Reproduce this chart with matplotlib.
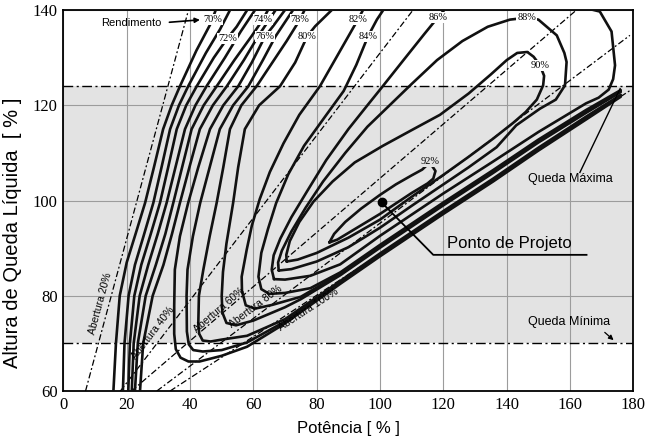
import numpy as np
import matplotlib.pyplot as plt

# hill chart: points are (Potência %, Altura %)
eff70 = [(15.8, 60), (16.6, 70), (17.8, 80), (20.0, 87), (22.8, 93), (25.8, 99.5), (28.6, 107),
         (31.5, 115), (34.2, 120), (36.8, 124), (42.0, 131.5), (46.3, 136.9), (48.4, 140.5)]
eff71 = [(18.8, 60), (19.3, 70), (20.6, 80), (22.6, 86.5), (25.3, 92.5), (28.4, 99.5), (31.0, 107),
         (33.7, 115), (36.5, 120), (39.4, 124), (45.0, 131), (49.5, 136), (53.0, 140.5)]
eff72 = [(20.5, 60), (21.0, 70), (22.4, 80), (24.6, 86.5), (27.6, 93), (30.5, 99.5), (33.1, 107),
         (35.8, 115), (38.8, 120), (42.1, 124), (47.5, 130), (51.8, 134.1), (54.7, 136.5), (58.5, 140.5)]
eff73 = [(21.6, 60), (22.2, 70), (24.1, 80), (26.8, 86.5), (29.8, 93), (32.6, 99.5), (35.4, 107),
         (38.4, 115), (41.7, 120), (45.2, 124), (51.0, 130), (56.0, 135.5), (61.0, 140.5)]
eff74 = [(22.6, 60), (23.5, 70), (26.0, 80), (29.2, 86.5), (32.2, 93), (34.7, 99.5), (37.5, 107),
         (40.5, 115), (44.3, 120), (48.4, 124), (54.0, 129.5), (59.4, 134.5), (63.0, 138), (65.0, 140.5)]
eff75 = [(24.2, 60), (25.2, 70), (28.2, 80), (31.6, 86.5), (34.3, 93), (36.8, 99.5), (39.8, 107),
         (43.1, 115), (47.2, 120), (51.6, 124), (57.0, 129.5), (61.5, 134.5), (65.0, 138), (67.5, 140.5)]
eff76 = [(176, 121.8), (165, 117.0), (150, 110.5), (135.7, 104.0), (120, 97.2), (100, 88.3), (87.4, 82.5),
         (70, 74.2), (58, 69.3), (50, 67.4), (43, 66.2), (39.5, 66.2), (37.0, 67.0), (35.5, 68.8),
         (35.0, 72), (35.0, 78), (35.2, 85.5), (36.8, 92.5), (39.4, 99.5), (42.6, 107), (46.3, 115),
         (50.5, 120), (55.2, 124), (59.5, 129), (63.7, 134.5), (66.2, 136.6), (70.5, 140.5)]
eff77 = [(176, 122.0), (165, 117.3), (150, 110.8), (135.7, 104.3), (120, 97.5), (100, 88.6), (87.4, 82.8),
         (70, 74.6), (58, 70.2), (50, 68.6), (44, 68.3), (41.0, 68.6), (39.6, 69.8), (39.0, 72.5),
         (38.9, 80), (39.2, 85.5), (40.9, 92.5), (43.2, 99.5), (46.2, 107), (49.4, 115), (53.6, 120),
         (58.4, 124), (63.0, 129.5), (67.0, 134.5), (70.5, 138), (73.0, 140.5)]
eff78 = [(176, 122.2), (165, 117.6), (150, 111.1), (135.7, 104.6), (120, 97.8), (100, 88.9), (87.4, 83.1),
         (70, 75.1), (58, 71.6), (50, 70.8), (46.5, 70.4), (44.0, 70.6), (42.9, 72), (42.6, 74),
         (42.8, 80), (44.2, 85.5), (46.2, 92.5), (48.4, 99.5), (50.5, 107), (52.6, 115), (56.2, 120),
         (61.0, 124), (66.0, 129), (70.5, 133.5), (74.7, 138), (76.5, 140.5)]
eff80 = [(176, 122.8), (165, 118.4), (150, 112.2), (135.7, 105.8), (120, 99.0), (100, 90.1), (87.4, 84.3),
         (75, 79.3), (70, 77.6), (60, 74.8), (54.5, 73.8), (51.5, 74.3), (50.2, 76.5), (50.0, 80),
         (50.4, 85), (51.5, 91), (53.6, 99.5), (55.2, 107), (57.3, 115), (61.8, 120), (68.4, 124),
         (73.2, 129), (77.0, 134.5), (79.5, 136.6), (85.5, 140.5)]
eff82 = [(176, 123.0), (165, 118.7), (150, 112.5), (135.7, 106.1), (120, 99.3), (100, 90.4), (87.4, 84.6),
         (75, 79.8), (66, 78.1), (60.5, 77.3), (57.6, 78), (56.4, 81), (56.3, 84), (57.9, 89.7),
         (59.5, 94.7), (62.0, 100.3), (65.2, 106), (69.5, 112), (74.5, 118), (81.0, 124), (87.0, 131),
         (93.0, 138), (95.0, 140.5)]
eff84 = [(176, 123.2), (165, 119.0), (150, 112.8), (135.7, 106.4), (120, 99.6), (100, 90.7), (87.4, 84.9),
         (78, 81.6), (70, 80.6), (65, 80.4), (62.5, 81.4), (61.6, 84), (62.5, 89), (64.6, 94),
         (67.2, 99.5), (71.0, 105.5), (76.0, 111.5), (82.5, 117.5), (88.5, 123), (92.5, 128.5),
         (96.2, 134.5), (99.0, 138), (101.5, 140.5)]
eff86 = [(66.5, 83.5), (65.8, 85.5), (66.4, 88.5), (68.5, 92), (72, 96.5), (77, 102), (83, 108.5),
         (90, 115), (96, 120), (100, 123.3), (108, 130), (114, 135), (118.3, 138.5), (121, 140.6),
         (135, 145), (150, 145), (160, 140.6), (166.3, 140.2), (169.4, 139.7), (173.1, 135.5),
         (174.2, 128.4), (173.6, 125.5), (172.2, 123.3), (169, 121.6), (165, 120.4), (150, 114.4),
         (135.7, 108.2), (120, 101.5), (100, 92.6), (87.4, 86.6), (78, 84.2), (70, 83.4), (66.5, 83.5)]
eff88 = [(68, 85.3), (67.8, 87), (69, 89.5), (72, 93.5), (76.5, 98.5), (82, 104), (89, 110), (96, 115.5),
         (103, 120), (110, 124.5), (118, 129.5), (126, 133.5), (134, 136.5), (141, 138), (146.3, 138.4),
         (150, 138), (155.8, 134.7), (158.2, 131), (158.9, 129.1), (158.4, 124.2), (155.5, 121.2),
         (150.5, 119.3), (143, 115.8), (136.8, 111.2), (128, 107.0), (120, 103.4), (110, 98.9),
         (100, 94.3), (90, 90.2), (80, 87.2), (72, 85.6), (68, 85.3)]
eff90 = [(70.5, 87.2), (70.4, 88.6), (71.5, 91.5), (74.5, 95.5), (79, 99.8), (85, 104), (92, 108),
         (100.9, 111.5), (110, 114.8), (118.9, 118), (128, 122.5), (135, 126.5), (140, 129.5),
         (143.3, 131), (146.5, 131.2), (148.5, 130.2), (150.5, 128.4), (151.8, 126.2), (151.5, 124.2),
         (149.5, 121.2), (146, 118.6), (142, 116.3), (135.7, 113), (128, 109.2), (120, 105.4),
         (110, 100.8), (100, 96.0), (90, 92.2), (80, 89.0), (74, 87.6), (70.5, 87.2)]
eff92 = [(84, 91.2), (85.5, 93), (89, 95.5), (94, 98.3), (100, 101.2), (105, 103.4), (110, 105.3),
         (113.3, 106.5), (115.7, 108), (117.5, 106.2), (116.8, 104.6), (115, 103.6), (110, 101.6),
         (105, 99.4), (100, 97.2), (95, 95.2), (90, 93.2), (86.5, 91.8), (84, 91.2)]
contours = [eff70, eff71, eff72, eff73, eff74, eff75, eff76, eff77, eff78,
            eff80, eff82, eff84, eff86, eff88, eff90, eff92]

# efficiency labels: text, x, y
eff_labels = [('70%', 47.2, 138.0), ('72%', 51.8, 134.1), ('74%', 63.0, 138.0), ('76%', 63.7, 134.5),
              ('78%', 74.7, 138.0), ('80%', 77.0, 134.5), ('82%', 93.0, 138.0), ('84%', 96.2, 134.5),
              ('86%', 118.3, 138.5), ('88%', 146.3, 138.4), ('90%', 150.5, 128.4), ('92%', 115.9, 108.1)]

# wicket gate opening lines (start, end)
openings = ['Abertura 20%', 'Abertura 40%', 'Abertura 60%', 'Abertura 80%', 'Abertura 100%']
open_start = [(7.0, 60), (18.0, 60), (21.5, 60), (29.5, 60), (33.7, 60)]
open_end = [(39.5, 140), (110.4, 140), (162.0, 140), (178.9, 134.7), (178.9, 123.1)]
open_label_pos = [(11.8, 78.4), (28.3, 72.2), (49.1, 76.9), (60.8, 77.7), (77.3, 77.1)]

head_max = 124.0
head_min = 70.0
design_point = (100.5, 99.6)

fig = plt.figure(figsize=(6.46, 4.45), dpi=100)
ax = fig.add_axes([0.0981, 0.1213, 0.8824, 0.856])
ax.set_xlim(0, 180)
ax.set_ylim(60, 140)

ax.axhspan(head_min, head_max, color='#e3e3e3', zorder=0.2, lw=0)
ax.grid(True, color='#9c9c9c', lw=0.8)
ax.set_axisbelow(True)

dashdot = (0, (7, 2.5, 1.5, 2.5))
ax.axhline(head_max, color='black', lw=1.0, ls=dashdot, zorder=2)
ax.axhline(head_min, color='black', lw=1.0, ls=dashdot, zorder=2)

for (x0, y0), (x1, y1) in zip(open_start, open_end):
    ax.plot([x0, x1], [y0, y1], color='black', lw=0.9, ls=(0, (5, 2, 1.5, 2)), zorder=2)

for (name, (x0, y0), (x1, y1), (tx, ty)) in zip(openings, open_start, open_end, open_label_pos):
    ang = np.degrees(np.arctan2(y1 - y0, x1 - x0))
    ax.text(tx, ty, name, fontsize=7.5, family='Liberation Sans', rotation=ang,
            transform_rotates_text=True, rotation_mode='anchor', ha='center', va='center', zorder=5)

for c in contours:
    xs, ys = zip(*c)
    ax.plot(xs, ys, color='#111111', lw=1.9, solid_capstyle='round', zorder=3)

for txt, x, y in eff_labels:
    bg = 'white' if y > head_max else '#e3e3e3'
    ax.text(x, y, txt, fontsize=7.5, family='Liberation Serif', ha='center', va='center', zorder=5,
            bbox=dict(facecolor=bg, edgecolor='none', pad=0.6))

# design point and annotations
ax.plot(*design_point, 'o', color='black', ms=6, zorder=6)
ax.plot([design_point[0], 116.8, 165.2], [design_point[1], 88.6, 88.6], color='black', lw=1.3, zorder=6)
ax.text(121, 90.9, 'Ponto de Projeto', fontsize=12, family='Liberation Sans', va='center', zorder=6)

ax.text(160, 104.5, 'Queda Máxima', fontsize=9, family='Liberation Sans', ha='center', va='center', zorder=6)
ax.plot([163.1, 175.8], [105.9, 123.5], color='black', lw=1.0, zorder=6)

ax.text(159.7, 74.6, 'Queda Mínima', fontsize=9, family='Liberation Sans', ha='center', va='center', zorder=6)
ax.annotate('', xy=(174.4, 70.3), xytext=(170.3, 72.7),
            arrowprops=dict(arrowstyle='-|>', color='black', lw=0.9, mutation_scale=7), zorder=6)

ax.text(21.6, 137.3, 'Rendimento', fontsize=8, family='Liberation Sans', ha='center', va='center', zorder=6)
ax.annotate('', xy=(44.0, 138.0), xytext=(32.6, 137.4),
            arrowprops=dict(arrowstyle='-|>', color='black', lw=1.2, mutation_scale=7), zorder=6)

ax.set_xticks(np.arange(0, 181, 20))
ax.set_yticks(np.arange(60, 141, 20))
ax.tick_params(length=0, labelsize=12, pad=4)
for lab in ax.get_xticklabels() + ax.get_yticklabels():
    lab.set_family('Liberation Serif')
for s in ax.spines.values():
    s.set_linewidth(1.3)

ax.set_xlabel('Potência [ % ]', fontsize=12, family='Liberation Sans', labelpad=6)
ax.set_ylabel('Altura de Queda Líquida  [ % ]', fontsize=14.5, family='Liberation Sans')
ax.yaxis.set_label_coords(-0.073, 0.415)

fig.savefig('out.png', dpi=100)
